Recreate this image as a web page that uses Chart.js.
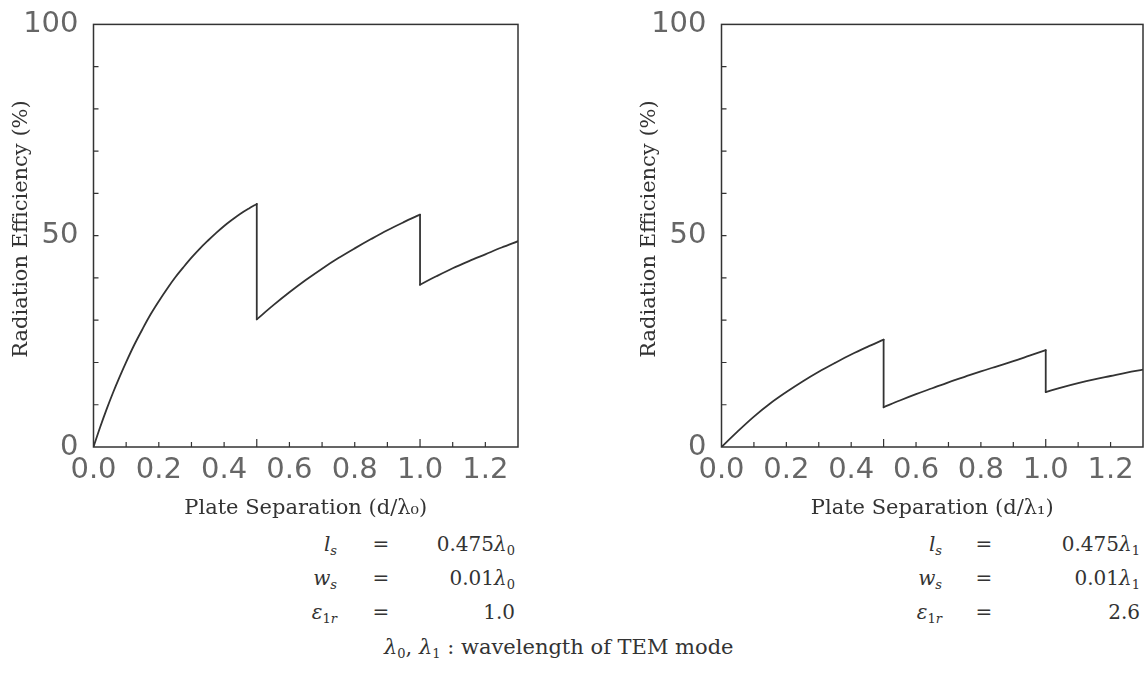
<!DOCTYPE html>
<html>
<head>
<meta charset="utf-8">
<script src="https://cdn.jsdelivr.net/npm/chart.js@4.4.1/dist/chart.umd.min.js"></script>
<style>
  body { margin: 0; background: #fff; width: 1147px; height: 687px; position: relative; overflow: hidden; }
  canvas { position: absolute; top: 0; }
  .t { position: absolute; font-family: "DejaVu Serif", "Liberation Serif", serif; font-size: 20px; color: #333; white-space: nowrap; line-height: 1; }
  .t i { font-style: italic; }
  .r { text-align: right; }
  .c { width: 20px; text-align: center; }
  sub { font-size: 13px; vertical-align: -4px; line-height: 0; }
</style>
</head>
<body>
<canvas id="left" width="560" height="530" style="left:0px"></canvas>
<canvas id="right" width="519" height="530" style="left:628px"></canvas>

<!-- parameter blocks -->
<div class="t r" style="right:810px; top:534px"><i>l</i><sub><i>s</i></sub></div>
<div class="t c" style="left:371px; top:534px">=</div>
<div class="t r" style="right:632px; top:534px">0.475<i>λ</i><sub>0</sub></div>
<div class="t r" style="right:810px; top:568px"><i>w</i><sub><i>s</i></sub></div>
<div class="t c" style="left:371px; top:568px">=</div>
<div class="t r" style="right:632px; top:568px">0.01<i>λ</i><sub>0</sub></div>
<div class="t r" style="right:810px; top:602px"><i>ε</i><sub>1<i>r</i></sub></div>
<div class="t c" style="left:371px; top:602px">=</div>
<div class="t r" style="right:632px; top:602px">1.0</div>

<div class="t r" style="right:205px; top:534px"><i>l</i><sub><i>s</i></sub></div>
<div class="t c" style="left:974px; top:534px">=</div>
<div class="t r" style="right:7px; top:534px">0.475<i>λ</i><sub>1</sub></div>
<div class="t r" style="right:205px; top:568px"><i>w</i><sub><i>s</i></sub></div>
<div class="t c" style="left:974px; top:568px">=</div>
<div class="t r" style="right:7px; top:568px">0.01<i>λ</i><sub>1</sub></div>
<div class="t r" style="right:205px; top:602px"><i>ε</i><sub>1<i>r</i></sub></div>
<div class="t c" style="left:974px; top:602px">=</div>
<div class="t r" style="right:7px; top:602px">2.6</div>

<div class="t" style="left:384px; top:637px; font-size:21px"><i>λ</i><sub>0</sub>, <i>λ</i><sub>1</sub> : wavelength of TEM mode</div>

<script>
// plate separation (d/lambda) and radiation efficiency (%)
// a repeated x value marks a jump
const leftX = [0, 0.02, 0.04, 0.06, 0.08, 0.10, 0.125, 0.15, 0.175, 0.20, 0.225, 0.25, 0.275, 0.30, 0.325, 0.35, 0.375, 0.40, 0.425, 0.45, 0.475, 0.50,
  0.50, 0.55, 0.60, 0.65, 0.70, 0.75, 0.80, 0.85, 0.90, 0.95, 1.00,
  1.00, 1.05, 1.10, 1.15, 1.20, 1.25, 1.30];
const leftY = [0, 4.6, 8.9, 12.9, 16.6, 20.1, 24.2, 27.9, 31.4, 34.5, 37.4, 40.1, 42.5, 44.8, 46.9, 48.8, 50.6, 52.3, 53.8, 55.2, 56.4, 57.5,
  30.2, 33.5, 36.6, 39.5, 42.2, 44.7, 47.0, 49.2, 51.3, 53.2, 55.0,
  38.4, 40.4, 42.3, 44.0, 45.6, 47.2, 48.7];

const rightX = [0, 0.05, 0.10, 0.15, 0.20, 0.25, 0.30, 0.35, 0.40, 0.45, 0.50,
  0.50, 0.55, 0.60, 0.65, 0.70, 0.75, 0.80, 0.85, 0.90, 0.95, 1.00,
  1.00, 1.05, 1.10, 1.15, 1.20, 1.25, 1.30];
const rightY = [0, 3.7, 7.2, 10.3, 13.0, 15.5, 17.8, 19.9, 21.9, 23.7, 25.4,
  9.4, 11.0, 12.5, 13.9, 15.3, 16.6, 17.9, 19.1, 20.3, 21.6, 22.9,
  13.0, 14.1, 15.1, 16.0, 16.8, 17.6, 18.3];

const xTitles = ["Plate Separation (d/λ₀)", "Plate Separation (d/λ₁)"];
const yTitle = "  Radiation Efficiency (%)";

const ink = "#333";

// box around the plot plus small inward tick marks
const frame = {
  id: "frame",
  afterDraw(chart) {
    const { ctx, chartArea: a, scales } = chart;
    ctx.save();
    ctx.strokeStyle = ink;
    ctx.lineWidth = 1.5;
    ctx.strokeRect(a.left, a.top, a.right - a.left, a.bottom - a.top);
    ctx.lineWidth = 1.2;
    ctx.beginPath();
    for (let i = 1; i <= 12; i++) {
      const px = scales.x.getPixelForValue(i / 10);
      const len = i % 5 === 0 ? 8 : 5;
      ctx.moveTo(px, a.bottom);
      ctx.lineTo(px, a.bottom - len);
    }
    for (let v = 10; v < 100; v += 10) {
      const py = scales.y.getPixelForValue(v);
      ctx.moveTo(a.left, py);
      ctx.lineTo(a.left + 5, py);
    }
    ctx.stroke();
    ctx.restore();
  }
};

// smooth branches between the jumps, straight vertical drops at the jumps
function buildDatasets(xs, ys) {
  const sets = [];
  let branch = [];
  xs.forEach((x, i) => {
    if (i > 0 && x === xs[i - 1]) {
      sets.push({ data: branch, tension: 0.35 });
      sets.push({ data: [{ x: x, y: ys[i - 1] }, { x: x, y: ys[i] }], tension: 0 });
      branch = [];
    }
    branch.push({ x: x, y: ys[i] });
  });
  sets.push({ data: branch, tension: 0.35 });
  return sets.map(s => Object.assign(s, {
    borderColor: ink,
    borderWidth: 1.8,
    borderCapStyle: "round",
    pointRadius: 0,
    fill: false
  }));
}

function makeChart(id, xs, ys, xTitle, rightPad) {
  return new Chart(document.getElementById(id), {
    type: "line",
    data: { datasets: buildDatasets(xs, ys) },
    options: {
      responsive: false,
      animation: false,
      layout: { padding: { top: 22, left: 0, right: rightPad, bottom: 0 } },
      plugins: { legend: { display: false }, tooltip: { enabled: false } },
      scales: {
        x: {
          type: "linear",
          min: 0,
          max: 1.3,
          grid: { display: false },
          border: { display: false },
          ticks: {
            stepSize: 0.2,
            includeBounds: false,
            autoSkip: false,
            maxRotation: 0,
            padding: -2,
            color: "#666",
            font: { family: "DejaVu Sans", size: 29 },
            callback: v => v.toFixed(1)
          },
          title: {
            display: true,
            text: xTitle,
            color: ink,
            font: { family: "DejaVu Serif", size: 21 },
            padding: { top: 0, bottom: 9 }
          },
          afterFit: s => { s.height = 83; }
        },
        y: {
          min: 0,
          max: 100,
          grid: { display: false },
          border: { display: false },
          ticks: {
            stepSize: 50,
            padding: 7,
            color: "#666",
            font: { family: "DejaVu Sans", size: 29 }
          },
          title: {
            display: true,
            text: yTitle,
            color: ink,
            font: { family: "DejaVu Serif", size: 21 },
            padding: { top: 9, bottom: 0 }
          },
          afterFit: s => { s.width = 93.5; }
        }
      }
    },
    plugins: [frame]
  });
}

makeChart("left", leftX, leftY, xTitles[0], 42);
makeChart("right", rightX, rightY, xTitles[1], 4);
</script>
</body>
</html>
